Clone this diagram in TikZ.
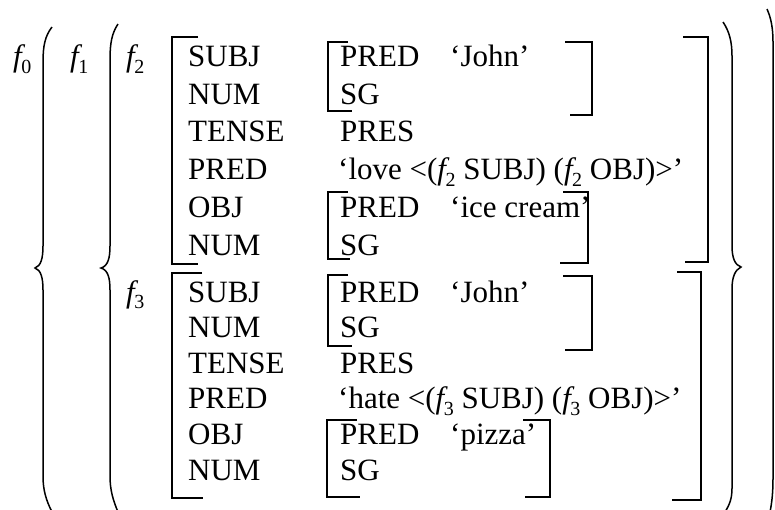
\documentclass[tikz,border=0pt]{standalone}
\usepackage{fontspec}
\setmainfont{Liberation Serif}
\usetikzlibrary{positioning}
\newcommand{\fv}[1]{{\itshape f}\kern-0.5pt\raisebox{-6.5pt}{\fontsize{20}{20}\selectfont#1}}

\begin{document}
\begin{tikzpicture}[x=1pt,y=-1pt,
  every node/.style={inner sep=0pt,anchor=base west,font=\fontsize{31}{37}\selectfont},
  brk/.style={line width=1.3pt},
  delim/.style={line width=1.5pt}]
\useasboundingbox (0,0) rectangle (775,509);
\def\p{37.7}
\def\q{35.6}
\def\ya{66.5}
\def\yb{302}
\node (f0) at (13,\ya) {\fv{0}};
\node (f1) at (70,\ya) {\fv{1}};
\node (f2) at (126,\ya) {\fv{2}};
\node (f3) at (126,\yb) {\fv{3}};
\foreach \a [count=\i from 0] in {SUBJ,NUM,TENSE,PRED,OBJ,NUM} {
  \node (ftwo-\i) at (188,{\ya+\i*\p}) {\a};
  \node (fthree-\i) at (188,{\yb+\i*\q}) {\a};
}
% values of f2
\node (ftwo-subj) at (340,\ya) {PRED};
\node (ftwo-john) at (450,\ya) {‘John’};
\node (ftwo-sg) at (340,{\ya+\p}) {SG};
\node (ftwo-tense) at (340,{\ya+2*\p}) {PRES};
\node (ftwo-pred) at (338,{\ya+3*\p}) {‘love <(\fv{2} SUBJ) (\fv{2} OBJ)>’};
\node (ftwo-obj) at (340,{\ya+4*\p}) {PRED};
\node (ftwo-ice) at (450,{\ya+4*\p}) {‘ice cream’};
\node (ftwo-osg) at (340,{\ya+5*\p}) {SG};
% values of f3
\node (fthree-subj) at (340,\yb) {PRED};
\node (fthree-john) at (450,\yb) {‘John’};
\node (fthree-sg) at (340,{\yb+\q}) {SG};
\node (fthree-tense) at (340,{\yb+2*\q}) {PRES};
\node (fthree-pred) at (338,{\yb+3*\q}) {‘hate <(\fv{3} SUBJ) (\fv{3} OBJ)>’};
\node (fthree-obj) at (340,{\yb+4*\q}) {PRED};
\node (fthree-pizza) at (450,{\yb+4*\q}) {‘pizza’};
\node (fthree-osg) at (340,{\yb+5*\q}) {SG};
% outer brackets
\draw[brk] (198,37) -| (172,264) -- (198,264);
\draw[brk] (683,37) -| (708,262) -- (685,262);
\draw[brk] (202,273) -| (172,498) -- (203,498);
\draw[brk] (677,272) -| (701,500) -- (672,500);
% inner brackets
\draw[brk] (348,42) -| (328,111) -- (352,111);
\draw[brk] (565,42) -| (592,115) -- (570,115);
\draw[brk] (348,192) -| (328,259) -- (350,259);
\draw[brk] (563,192) -| (588,263) -- (560,263);
\draw[brk] (348,275) -| (328,346) -- (352,346);
\draw[brk] (563,276) -| (592,350) -- (565,350);
\draw[brk] (357,420) -| (327,497) -- (360,497);
\draw[brk] (523,420) -| (550,497) -- (525,497);
% set delimiters
\draw[delim] (52,27) .. controls (45,36) and (43,46) .. (43,62) -- (43,246) .. controls (43,258) and (41,266) .. (35,268) .. controls (41,270) and (43,278) .. (43,290) -- (43,476) .. controls (43,490) and (46,500) .. (52,512);
\draw[delim] (118,24) .. controls (112,33) and (110,43) .. (110,59) -- (110,246) .. controls (110,258) and (108,266) .. (101,268) .. controls (108,270) and (110,278) .. (110,290) -- (110,476) .. controls (110,490) and (113,500) .. (118,512);
\draw[delim] (723,22) .. controls (729,31) and (732,41) .. (732,56) -- (732,246) .. controls (732,258) and (735,265) .. (741,267) .. controls (735,270) and (732,277) .. (732,289) -- (732,488) .. controls (732,498) and (730,504) .. (725,512);
\draw[delim] (767,9) .. controls (771,18) and (773,28) .. (773,42) -- (773,478) .. controls (773,492) and (772,502) .. (770,512);
\end{tikzpicture}
\end{document}
